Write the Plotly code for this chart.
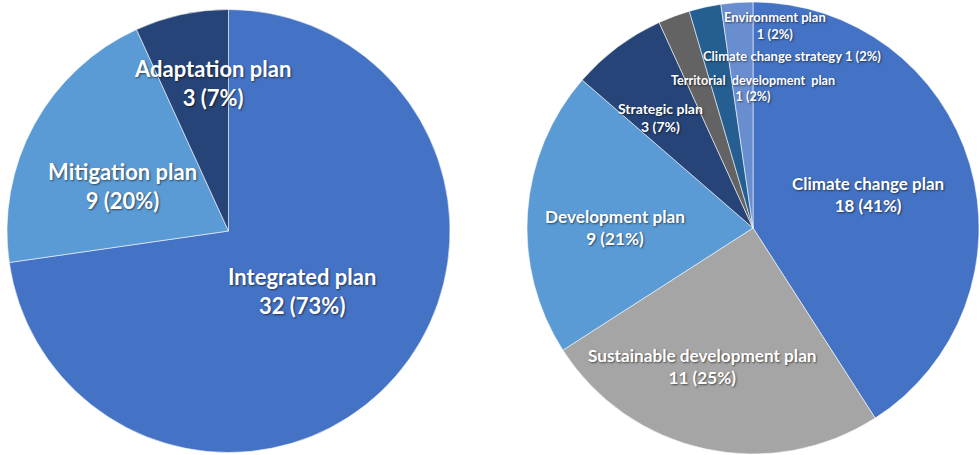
import plotly.graph_objects as go

# Left pie: plan type
left_labels = ["Integrated plan", "Mitigation plan", "Adaptation plan"]
left_values = [32, 9, 3]
left_pct = [73, 20, 7]
left_colors = ["#4472C4", "#5B9BD5", "#264478"]

# Right pie: plan name
right_labels = ["Climate change plan", "Sustainable development plan", "Development plan",
                "Strategic plan", "Territorial  development  plan",
                "Climate change strategy", "Environment plan"]
right_values = [18, 11, 9, 3, 1, 1, 1]
right_pct = [41, 25, 21, 7, 2, 2, 2]
right_colors = ["#4472C4", "#A5A5A5", "#5B9BD5", "#264478", "#636363", "#255E91", "#698ED0"]

W, H = 980, 455

fig = go.Figure()

def dom(cx, cy, r):
    return dict(x=[(cx - r) / W, (cx + r) / W], y=[1 - (cy + r) / H, 1 - (cy - r) / H])

fig.add_trace(go.Pie(
    labels=left_labels, values=left_values, sort=False, direction="clockwise", rotation=0,
    marker=dict(colors=left_colors, line=dict(color="rgba(255,255,255,0.7)", width=0.8)),
    textinfo="none", hoverinfo="label+value+percent", showlegend=False,
    domain=dom(228.5, 231, 221.5),
))
fig.add_trace(go.Pie(
    labels=right_labels, values=right_values, sort=False, direction="clockwise", rotation=0,
    marker=dict(colors=right_colors, line=dict(color="rgba(255,255,255,0.7)", width=0.8)),
    textinfo="none", hoverinfo="label+value+percent", showlegend=False,
    domain=dom(753, 228, 226),
))

FONT = "Lato"
SHADOW = "1px 1px 2px rgba(0,0,0,0.55)"

def lab(text, x, y, size):
    fig.add_annotation(text=text, x=x / W, y=1 - y / H, xref="paper", yref="paper",
                       showarrow=False, xanchor="center", yanchor="middle",
                       font=dict(family=FONT, size=size, color="white", weight="bold", shadow=SHADOW))

def two(i, labels, values, pct):
    return f"{labels[i]}<br>{values[i]} ({pct[i]}%)"

# Left labels
lab(two(2, left_labels, left_values, left_pct), 212, 83, 22)
lab(two(1, left_labels, left_values, left_pct), 122, 186, 22)
lab(two(0, left_labels, left_values, left_pct), 302, 291, 22)

# Right labels
lab(two(0, right_labels, right_values, right_pct), 868, 194, 17)
lab(two(1, right_labels, right_values, right_pct), 702, 366, 17.2)
lab(two(2, right_labels, right_values, right_pct), 615, 227, 17.2)
lab(two(3, right_labels, right_values, right_pct), 660, 118, 14)
lab(two(6, right_labels, right_values, right_pct), 775, 25, 13)
lab(f"{right_labels[5]} {right_values[5]} ({right_pct[5]}%)", 792, 56, 13)
lab(two(4, right_labels, right_values, right_pct), 753, 89, 12.6)

fig.update_layout(width=W, height=H, margin=dict(l=0, r=0, t=0, b=0),
                  paper_bgcolor="white", plot_bgcolor="white")

fig.write_html("out.html")
